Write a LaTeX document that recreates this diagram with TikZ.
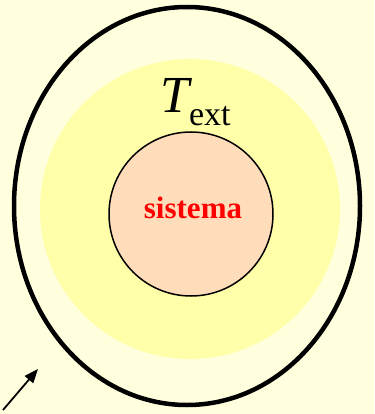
\documentclass[tikz,border=0pt]{standalone}
\usepackage{fontspec}
\setmainfont{Liberation Serif}
\usetikzlibrary{shapes.geometric,arrows.meta}
\definecolor{bgyellow}{RGB}{255,255,221}
\definecolor{midyellow}{RGB}{255,255,170}
\definecolor{peach}{RGB}{255,221,187}
\tikzset{
  outerring/.style={ellipse, draw=black, line width=4.5pt, minimum width=346pt, minimum height=398pt, inner sep=0pt},
  surround/.style={circle, fill=midyellow, minimum size=300pt, inner sep=0pt},
  systemdisk/.style={circle, draw=black, fill=peach, line width=1.5pt, minimum size=164pt, inner sep=0pt},
}
\begin{document}
\begin{tikzpicture}[x=1pt,y=-1pt]
\fill[bgyellow] (0,0) rectangle (374,414);
\useasboundingbox (0,0) rectangle (374,414);
\node[surround] (env) at (190,209) {};
\node[outerring] (bound) at (187,206) {};
\node[systemdisk] (sys) at (191,214) {};
\node[text=red, font=\fontsize{31}{31}\selectfont\bfseries] (lab) at (193,208) {sistema};
\node[anchor=base west, inner sep=0pt] (text) at (160,113) {\fontsize{52}{52}\selectfont\itshape T\upshape\raisebox{-13pt}{\fontsize{34}{34}\selectfont ext}};
\coordinate (tail) at (3,410);
\coordinate (tip) at (38,369);
\draw[line width=1.8pt, -{Triangle[length=14pt,width=11pt]}] (tail) -- (tip);
\end{tikzpicture}
\end{document}
